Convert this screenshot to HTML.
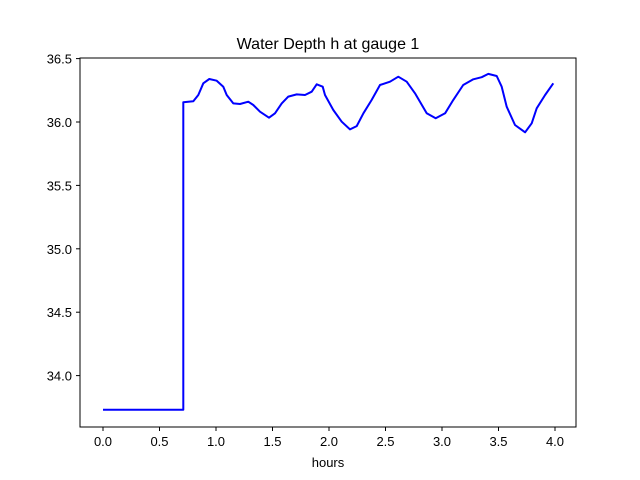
<!DOCTYPE html>
<html><head><meta charset="utf-8"><style>
body{margin:0;background:#fff}
svg{display:block;font-family:"Liberation Sans","DejaVu Sans",sans-serif}
</style></head><body>
<svg id="chart" width="640" height="480">
<rect width="640" height="480" fill="#fff"/>
<text x="328" y="49" text-anchor="middle" font-size="16">Water Depth h at gauge 1</text>
<g id="ticks"></g>
<path id="line" fill="none" stroke="#0000ff" stroke-width="2" stroke-linejoin="round"/>
<rect x="80" y="58" width="496" height="369" fill="none" stroke="#000" stroke-width="1"/>
<text x="328" y="467" text-anchor="middle" font-size="13">hours</text>
</svg>
<script>
const hours=[0,0.711,0.711,0.799,0.843,0.888,0.941,1.006,1.065,1.095,1.153,1.212,1.286,1.330,1.389,1.469,1.522,1.581,1.640,1.714,1.788,1.847,1.891,1.944,1.965,2.038,2.112,2.186,2.245,2.304,2.378,2.451,2.540,2.613,2.688,2.761,2.865,2.944,3.027,3.100,3.188,3.277,3.351,3.410,3.484,3.528,3.573,3.646,3.735,3.794,3.838,3.912,3.985];
const depth=[33.73,33.73,36.155,36.163,36.213,36.305,36.339,36.326,36.278,36.213,36.147,36.142,36.160,36.134,36.081,36.034,36.069,36.147,36.200,36.218,36.213,36.239,36.297,36.278,36.213,36.095,36.002,35.942,35.968,36.069,36.174,36.292,36.318,36.357,36.318,36.226,36.069,36.029,36.069,36.174,36.292,36.337,36.353,36.379,36.363,36.278,36.121,35.976,35.919,35.990,36.108,36.213,36.305];
const xTicks=[0,0.5,1,1.5,2,2.5,3,3.5,4];
const xTickLabels=["0.0","0.5","1.0","1.5","2.0","2.5","3.0","3.5","4.0"];
const yTicks=[34,34.5,35,35.5,36,36.5];
const yTickLabels=["34.0","34.5","35.0","35.5","36.0","36.5"];
const xs=h=>103+h*113;
const ys=v=>122-(v-36)*126.8;
const NS="http://www.w3.org/2000/svg";
const g=document.getElementById('ticks');
xTicks.forEach((t,i)=>{
 const l=document.createElementNS(NS,'line');
 
 
 l.setAttribute('x1',xs(t));l.setAttribute('x2',xs(t));l.setAttribute('y1',427);l.setAttribute('y2',431);l.setAttribute('stroke','#000');
 g.appendChild(l);
 const tx=document.createElementNS(NS,'text');
 
 
 tx.setAttribute('x',xs(t));tx.setAttribute('y',446);tx.setAttribute('text-anchor','middle');tx.setAttribute('font-size','13');
 tx.textContent=xTickLabels[i];g.appendChild(tx);
});
yTicks.forEach((t,i)=>{
 const l=document.createElementNS(NS,'line');
 
 
 l.setAttribute('x1',76);l.setAttribute('x2',80);l.setAttribute('y1',ys(t));l.setAttribute('y2',ys(t));l.setAttribute('stroke','#000');
 g.appendChild(l);
 const tx=document.createElementNS(NS,'text');
 
 
 tx.setAttribute('x',72);tx.setAttribute('y',ys(t)+5);tx.setAttribute('text-anchor','end');tx.setAttribute('font-size','13');
 tx.textContent=yTickLabels[i];g.appendChild(tx);
});
document.getElementById('line').setAttribute('d',hours.map((h,i)=>(i?'L':'M')+xs(h).toFixed(1)+','+ys(depth[i]).toFixed(1)).join(' '));
</script>
</body></html>
